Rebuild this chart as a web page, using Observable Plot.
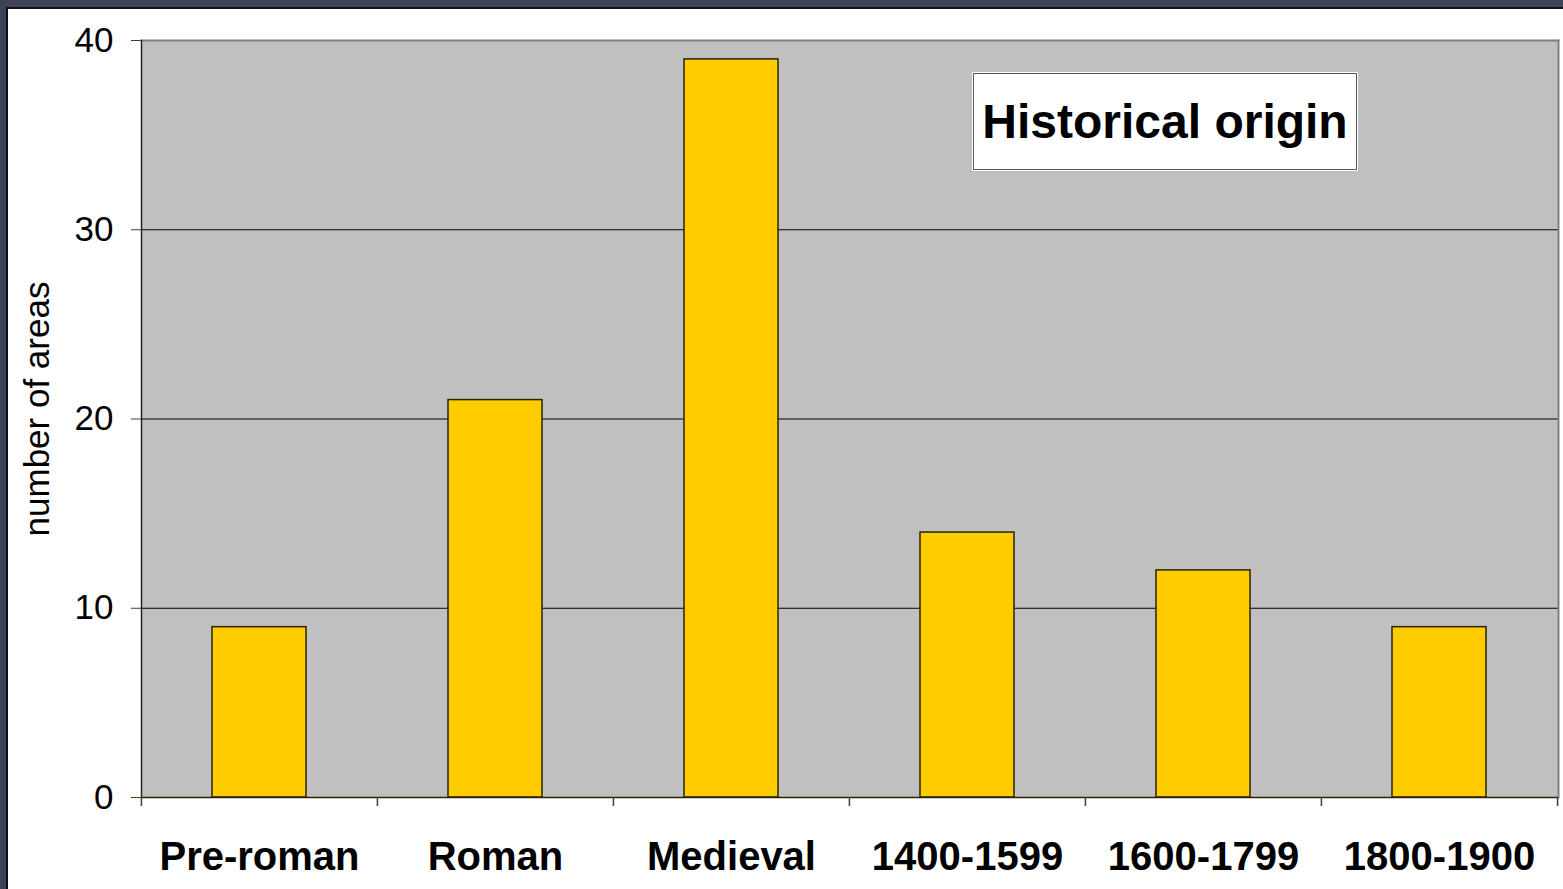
<!DOCTYPE html>
<html>
<head>
<meta charset="utf-8">
<script src="https://cdn.jsdelivr.net/npm/d3@7"></script>
<script src="https://cdn.jsdelivr.net/npm/@observablehq/plot@0.6"></script>
<style>
  html, body { margin: 0; padding: 0; }
  body { width: 1563px; height: 889px; background: #3d4459; position: relative; overflow: hidden; font-family: "Liberation Sans", Arial, sans-serif; }
  #panel { position: absolute; left: 6px; top: 7px; width: 1557px; height: 882px; background: white; border-left: 2px solid #111; border-top: 2px solid #111; box-sizing: border-box; }
  #chart { position: absolute; left: 0; top: 0; }
  #title { position: absolute; left: 973px; top: 73px; width: 384px; height: 97px; box-sizing: border-box; background: white; border: 1px solid #555; outline: 1px solid white; display: flex; align-items: center; justify-content: center; font: bold 48px "Liberation Sans", Arial, sans-serif; color: black; }
</style>
</head>
<body>
<div id="panel"></div>
<div id="chart"></div>
<div id="title">Historical origin</div>
<script>
const categories = ["Pre-roman", "Roman", "Medieval", "1400-1599", "1600-1799", "1800-1900"];
const counts = [9, 21, 39, 14, 12, 9];
const yTicks = [0, 10, 20, 30, 40];
const yLabel = "number of areas";

const data = categories.map((c, i) => ({category: c, count: counts[i]}));

const W = 1563, H = 889, mL = 141, mR = 5, mT = 40, mB = 92;
const step = (W - mL - mR) / categories.length;

const plot = Plot.plot({
  width: W,
  height: H,
  marginLeft: mL,
  marginRight: mR,
  marginTop: mT,
  marginBottom: mB,
  style: {background: "transparent", fontFamily: "'Liberation Sans', Arial, sans-serif", color: "black"},
  x: {domain: categories, paddingInner: 0.6, paddingOuter: 0.3},
  y: {domain: [0, 40]},
  marks: [
    Plot.frame({fill: "#c0c0c0", stroke: null}),
    Plot.gridY([10, 20, 30], {stroke: "black", strokeOpacity: 1, strokeWidth: 1}),
    Plot.frame({anchor: "top", stroke: "#808080", strokeWidth: 2}),
    Plot.frame({anchor: "right", stroke: "#808080", strokeWidth: 2}),
    Plot.barY(data, {x: "category", y: "count", fill: "#ffcc00", stroke: "#2a2200", strokeWidth: 1.5}),
    Plot.frame({anchor: "left", stroke: "#222", strokeWidth: 1.5}),
    Plot.ruleY([0], {stroke: "#2a2200", strokeWidth: 1.5}),
    Plot.ruleX(categories, {x: d => d, dx: -step / 2, y1: 0, y2: 0, insetBottom: -9, stroke: "#4a4020", strokeWidth: 1.5}),
    Plot.ruleX([categories[categories.length - 1]], {x: d => d, dx: step / 2, y1: 0, y2: 0, insetBottom: -9, stroke: "#4a4020", strokeWidth: 1.5}),
    Plot.axisY(yTicks, {tickSize: 10, tickPadding: 18, fontSize: 35, stroke: "#4a4020", label: null}),
    Plot.axisX({tickSize: 0, tickPadding: 44, fontSize: 40, fontWeight: "bold", label: null}),
    Plot.text([yLabel], {frameAnchor: "left", textAnchor: "middle", dx: -104, dy: -10, rotate: -90, fontSize: 35, fill: "black", text: d => d})
  ]
});
document.getElementById("chart").appendChild(plot);
</script>
</body>
</html>
